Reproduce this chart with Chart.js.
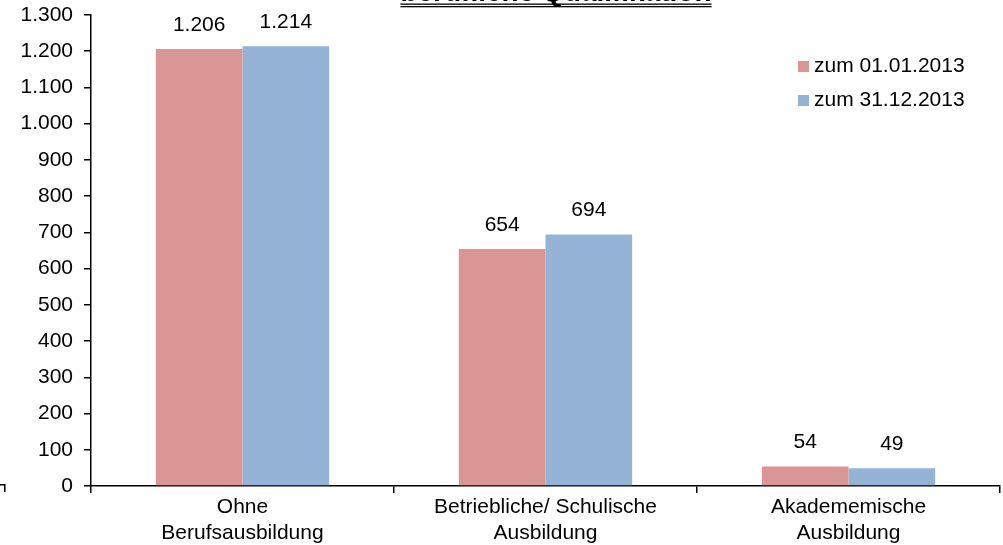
<!DOCTYPE html>
<html lang="de">
<head>
<meta charset="utf-8">
<title>berufliche Qualifikation</title>
<script src="https://cdn.jsdelivr.net/npm/chart.js@4"></script>
<style>
  html, body {
    margin: 0;
    padding: 0;
    background: #fff;
    overflow: hidden;
  }
  #wrap {
    width: 1003px;
    height: 545px;
    position: relative;
  }
</style>
</head>
<body>
<div id="wrap"><canvas id="canvas"></canvas></div>
<script>
const title = 'berufliche Qualifikation';
const categories = [
  ['Ohne', 'Berufsausbildung'],
  ['Betriebliche/ Schulische', 'Ausbildung'],
  ['Akadememische', 'Ausbildung'],
];
const seriesNames = ['zum 01.01.2013', 'zum 31.12.2013'];
const valuesStart = [1206, 654, 54];
const valuesEnd = [1214, 694, 49];
const seriesColors = ['#d99694', '#95b3d7'];

const FONT = "'Liberation Sans', Arial, sans-serif";

function formatDe(n) {
  return String(n).replace(/\B(?=(\d{3})+(?!\d))/g, '.');
}

// value labels above each bar
const valueLabels = {
  id: 'valueLabels',
  afterDatasetsDraw(chart) {
    const ctx = chart.ctx;
    ctx.save();
    ctx.font = `21px ${FONT}`;
    ctx.fillStyle = '#000';
    ctx.textAlign = 'center';
    ctx.textBaseline = 'middle';
    chart.data.datasets.forEach((ds, i) => {
      chart.getDatasetMeta(i).data.forEach((bar, j) => {
        ctx.fillText(formatDe(ds.data[j]), bar.x, bar.y - 24);
      });
    });
    ctx.restore();
  },
};

// legend inside the plot, top right
const boxLegend = {
  id: 'boxLegend',
  afterDraw(chart) {
    const ctx = chart.ctx;
    ctx.save();
    ctx.font = `21px ${FONT}`;
    ctx.textAlign = 'left';
    ctx.textBaseline = 'middle';
    chart.data.datasets.forEach((ds, i) => {
      const y = 66 + i * 34;
      ctx.fillStyle = ds.backgroundColor;
      ctx.fillRect(798, y - 5, 11, 11);
      ctx.fillStyle = '#000';
      ctx.fillText(ds.label, 814, y);
    });
    ctx.restore();
  },
};

// title that sits mostly above the visible area
const cutTitle = {
  id: 'cutTitle',
  afterDraw(chart) {
    const ctx = chart.ctx;
    ctx.save();
    ctx.font = `bold 28px ${FONT}`;
    ctx.fillStyle = '#000';
    ctx.textAlign = 'center';
    ctx.textBaseline = 'alphabetic';
    const cx = 556;
    ctx.fillText(title, cx, 1);
    const w = ctx.measureText(title).width;
    ctx.fillRect(cx - w / 2, 3.5, w, 1.3);
    ctx.fillRect(cx - w / 2, 6, w, 1.3);
    // stray frame corner at bottom left
    ctx.fillRect(0, 484, 5, 1.5);
    ctx.fillRect(4, 484, 1.5, 8);
    ctx.restore();
  },
};

const config = {
  type: 'bar',
  data: {
    labels: categories,
    datasets: [
      {
        label: seriesNames[0],
        data: valuesStart,
        backgroundColor: seriesColors[0],
      },
      {
        label: seriesNames[1],
        data: valuesEnd,
        backgroundColor: seriesColors[1],
      },
    ],
  },
  options: {
    responsive: false,
    animation: false,
    categoryPercentage: 0.572,
    barPercentage: 1.0,
    layout: {
      padding: {top: 15, right: 3, left: 0, bottom: 0},
    },
    plugins: {
      legend: {display: false},
      tooltip: {enabled: false},
      title: {display: false},
    },
    scales: {
      x: {
        grid: {
          offset: true,
          drawOnChartArea: false,
          drawTicks: true,
          tickLength: 7,
          color: '#000',
          lineWidth: 1.5,
        },
        border: {color: '#000', width: 1.5},
        ticks: {
          color: '#000',
          padding: 2,
          maxRotation: 0,
          font: {family: FONT, size: 21, lineHeight: 1.2},
        },
        afterFit(scale) {
          scale.height = 59;
        },
      },
      y: {
        min: 0,
        max: 1300,
        grid: {
          drawOnChartArea: false,
          drawTicks: true,
          tickLength: 7,
          color: '#000',
          lineWidth: 1.5,
        },
        border: {color: '#000', width: 1.5},
        ticks: {
          stepSize: 100,
          color: '#000',
          padding: 11,
          font: {family: FONT, size: 21},
          callback: v => formatDe(v),
        },
        afterFit(scale) {
          scale.width = 91;
          scale.paddingTop = 0;
          scale.paddingBottom = 0;
        },
      },
    },
  },
  plugins: [valueLabels, boxLegend, cutTitle],
};

document.addEventListener('DOMContentLoaded', () => {
  const canvas = document.getElementById('canvas');
  canvas.width = 1003;
  canvas.height = 545;
  new Chart(canvas.getContext('2d'), config);
});
</script>
</body>
</html>
